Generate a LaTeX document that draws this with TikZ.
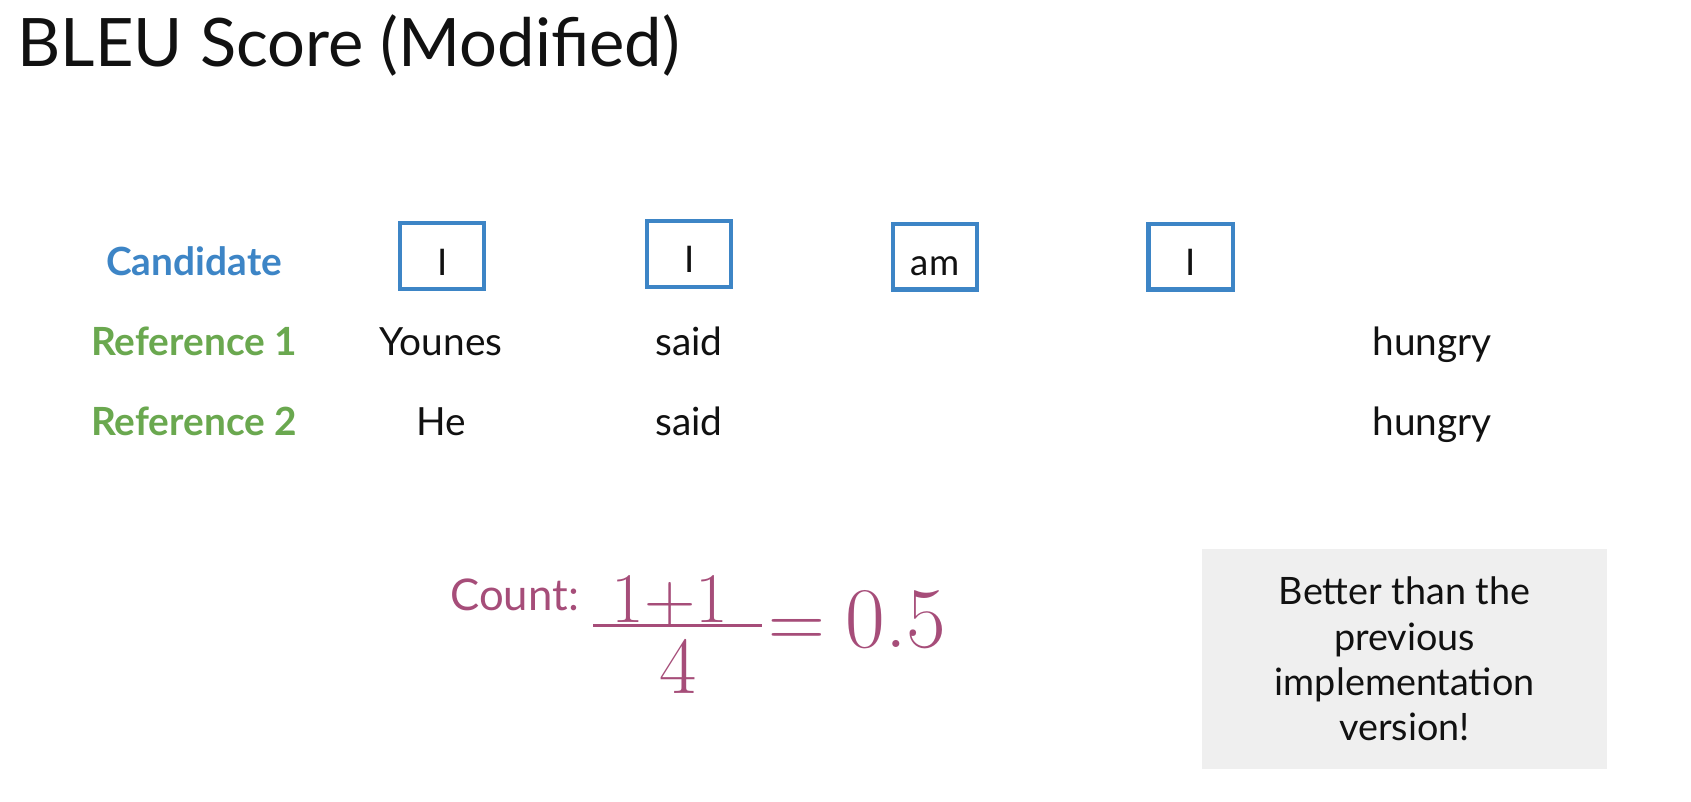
\documentclass[tikz,border=0pt]{standalone}
\usepackage{fontspec}
\newfontfamily\lmr{Latin Modern Roman}
\setmainfont{Lato}
\definecolor{candblue}{HTML}{3D85C6}
\definecolor{refgreen}{HTML}{6AA84F}
\definecolor{countred}{HTML}{A64D79}
\definecolor{notegray}{HTML}{EFEFEF}
\definecolor{txt}{HTML}{111111}
\tikzset{
  lbl/.style={font=\fontsize{36}{42}\selectfont\bfseries, inner sep=0pt, anchor=base},
  word/.style={font=\fontsize{36}{42}\selectfont, text=txt, inner sep=0pt, anchor=base},
  wbox/.style={draw=candblue, line width=4pt, minimum width=78pt, minimum height=61pt, inner sep=0pt, text height=35pt, text depth=0pt, font=\fontsize{34}{40}\selectfont, text=txt},
  mathtxt/.style={inner sep=0pt, text=countred},
}
\begin{document}
\begin{tikzpicture}[x=1pt,y=-1pt]
\useasboundingbox (0,0) rectangle (1568,743);
\fill[white] (0,0) rectangle (1568,743);
\node[anchor=base west, inner sep=0pt, font=\fontsize{62}{70}\selectfont, text=txt] (title) at (16,62) {BLEU Score (Modified)};
% row labels
\node[lbl, text=candblue] (cand) at (180,255) {Candidate};
\node[lbl, text=refgreen] (ref1) at (180,330) {Reference 1};
\node[lbl, text=refgreen] (ref2) at (180,404) {Reference 2};
% candidate boxes
\node[wbox] (c1) at (410,237.5) {I};
\node[wbox] (c2) at (639,235.5) {I};
\node[wbox] (c3) at (867,238) {am};
\node[wbox] (c4) at (1104,238) {I};
% reference words
\node[word] (r1a) at (409,330) {Younes};
\node[word] (r1b) at (639,330) {said};
\node[word] (r1c) at (1328,330) {hungry};
\node[word] (r2a) at (409,404) {He};
\node[word] (r2b) at (639,404) {said};
\node[word] (r2c) at (1328,404) {hungry};
% count
\node[anchor=base east, inner sep=0pt, text=countred, font=\fontsize{40.5}{46}\selectfont] (count) at (537,566) {Count:};
\node[mathtxt, anchor=base, font=\fontsize{66}{80}\lmr] (num) at (621,577) {1+1};
\coordinate (barL) at (550,580);
\coordinate (barR) at (707,580);
\draw[countred, line width=3pt] (barL) -- (barR);
\node[mathtxt, anchor=base, font=\fontsize{75}{80}\lmr] (den) at (629,643) {4};
\node[mathtxt, anchor=base west, font=\fontsize{73}{80}\lmr] (eq) at (712,600) {=};
\node[mathtxt, anchor=base west, font=\fontsize{80}{86}\lmr] (res) at (784,600) {0.5};
% note box
\node[fill=notegray, minimum width=375pt, minimum height=204pt, inner sep=0pt, align=center, text=txt, font=\fontsize{35}{42}\selectfont] (note) at (1302.5,611) {Better than the\\previous\\implementation\\version!};
\end{tikzpicture}
\end{document}
